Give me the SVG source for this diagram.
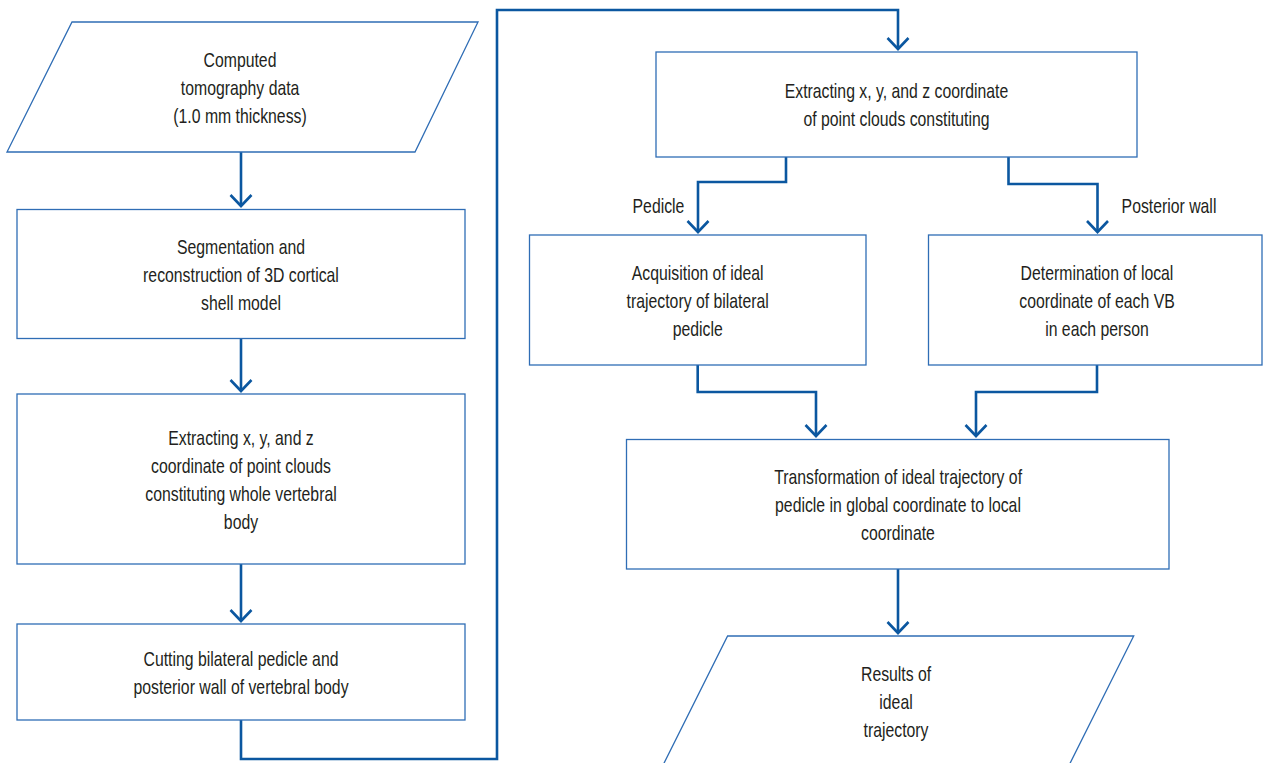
<svg xmlns="http://www.w3.org/2000/svg" width="1263" height="763" viewBox="0 0 1263 763">
<style>
  .node { fill: #ffffff; stroke: #2f6db5; stroke-width: 1.3; }
  .conn { fill: none; stroke: #0b57a0; stroke-width: 2.6; stroke-linejoin: miter; }
  text { font-family: "Liberation Sans", Arial, sans-serif; font-size: 20px; fill: #231f20; text-anchor: middle;
         transform-box: fill-box; transform-origin: center; transform: scaleX(0.79); }
</style>
<defs>
  <marker id="arr" markerUnits="userSpaceOnUse" markerWidth="30" markerHeight="30" refX="0" refY="0" orient="auto" overflow="visible">
    <path d="M-11,-10.5 L0,0 L-11,10.5" fill="none" stroke="#0b57a0" stroke-width="2.6"/>
  </marker>
</defs>
<rect width="1263" height="763" fill="#ffffff"/>

<g id="connectors">
  <path class="conn" d="M241,152 L241,206" marker-end="url(#arr)"/>
  <path class="conn" d="M241,338 L241,391" marker-end="url(#arr)"/>
  <path class="conn" d="M241,564 L241,621" marker-end="url(#arr)"/>
  <path class="conn" d="M241,720 L241,759 L497,759 L497,10 L898,10 L898,49" marker-end="url(#arr)"/>
  <path class="conn" d="M786,157 L786,182 L698,182 L698,232" marker-end="url(#arr)"/>
  <path class="conn" d="M1008.5,157 L1008.5,184 L1097.5,184 L1097.5,232" marker-end="url(#arr)"/>
  <path class="conn" d="M697.7,365 L697.7,392 L816,392 L816,436" marker-end="url(#arr)"/>
  <path class="conn" d="M1097,365 L1097,392 L976,392 L976,436" marker-end="url(#arr)"/>
  <path class="conn" d="M898,569 L898,633" marker-end="url(#arr)"/>
  <text x="658.5" y="213">Pedicle</text>
  <text x="1169" y="213">Posterior wall</text>
</g>

<g id="ct-data">
  <polygon class="node" points="72,22 478,22 415,152 7,152"/>
  <text x="240" y="67">Computed</text>
  <text x="240" y="95">tomography data</text>
  <text x="240" y="123">(1.0 mm thickness)</text>
</g>

<g id="segmentation">
  <rect class="node" x="17" y="209.5" width="448" height="129"/>
  <text x="241" y="254">Segmentation and</text>
  <text x="241" y="282">reconstruction of 3D cortical</text>
  <text x="241" y="310">shell model</text>
</g>

<g id="extracting-whole">
  <rect class="node" x="17" y="394" width="448" height="170"/>
  <text x="241" y="445">Extracting x, y, and z</text>
  <text x="241" y="473">coordinate of point clouds</text>
  <text x="241" y="501">constituting whole vertebral</text>
  <text x="241" y="529">body</text>
</g>

<g id="cutting">
  <rect class="node" x="17" y="624" width="448" height="96"/>
  <text x="241" y="666">Cutting bilateral pedicle and</text>
  <text x="241" y="694">posterior wall of vertebral body</text>
</g>

<g id="extracting-cut">
  <rect class="node" x="656" y="52" width="481" height="105"/>
  <text x="896.5" y="98">Extracting x, y, and z coordinate</text>
  <text x="896.5" y="126">of point clouds constituting</text>
</g>

<g id="acquisition">
  <rect class="node" x="529.5" y="235" width="336.5" height="130"/>
  <text x="697.7" y="280">Acquisition of ideal</text>
  <text x="697.7" y="308">trajectory of bilateral</text>
  <text x="697.7" y="336">pedicle</text>
</g>

<g id="determination">
  <rect class="node" x="928.5" y="235" width="333.5" height="130"/>
  <text x="1097" y="280">Determination of local</text>
  <text x="1097" y="308">coordinate of each VB</text>
  <text x="1097" y="336">in each person</text>
</g>

<g id="transformation">
  <rect class="node" x="626.5" y="439.5" width="542.5" height="129.5"/>
  <text x="898" y="484">Transformation of ideal trajectory of</text>
  <text x="898" y="512">pedicle in global coordinate to local</text>
  <text x="898" y="540">coordinate</text>
</g>

<g id="results">
  <polygon class="node" points="727.6,636 1133.7,636 1051.7,800 645.6,800"/>
  <text x="896" y="681">Results of</text>
  <text x="896" y="709">ideal</text>
  <text x="896" y="737">trajectory</text>
</g>
</svg>
